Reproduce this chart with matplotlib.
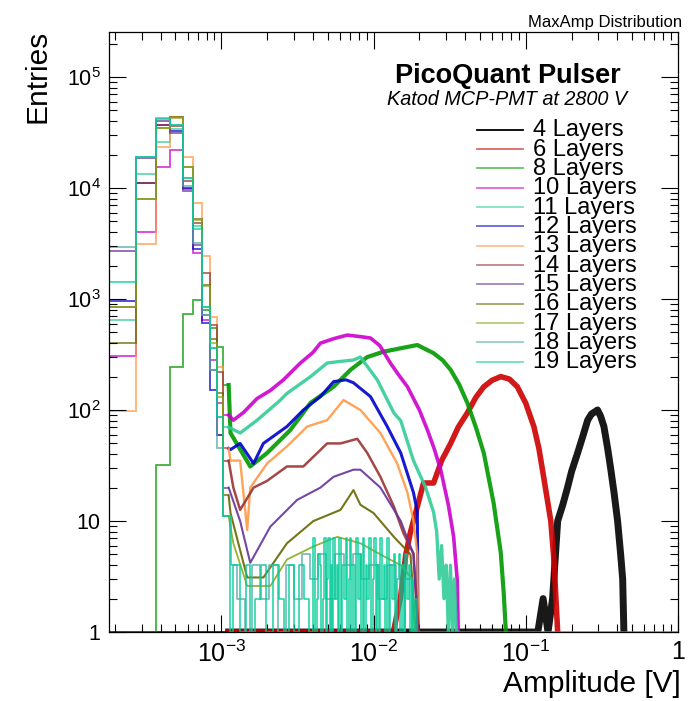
import numpy as np
import matplotlib.pyplot as plt
from matplotlib.ticker import FixedLocator, FixedFormatter, LogLocator, NullFormatter

plt.rcParams['font.family'] = ['Liberation Sans', 'DejaVu Sans']
plt.rcParams['mathtext.fontset'] = 'custom'
plt.rcParams['mathtext.rm'] = 'Liberation Sans'
plt.rcParams['mathtext.it'] = 'Liberation Sans:italic'
plt.rcParams['mathtext.bf'] = 'Liberation Sans:bold'

layers = ['4 Layers', '6 Layers', '8 Layers', '10 Layers', '11 Layers', '12 Layers',
          '13 Layers', '14 Layers', '15 Layers', '16 Layers', '17 Layers', '18 Layers',
          '19 Layers']
colors = ['#000000', '#cc0000', '#009900', '#cc00cc', '#33cc99', '#0000cc',
          '#ff9944', '#993333', '#663399', '#666600', '#88aa22', '#55aaaa', '#00cc99']

# pedestal region: the first ten fixed-width bins [V]
ped_edges = [1.83e-4, 2.76e-4, 3.70e-4, 4.63e-4, 5.57e-4, 6.50e-4,
             7.44e-4, 8.37e-4, 9.31e-4, 1.024e-3, 1.118e-3]
ped_4 = [1, 1, 1, 1, 1, 1, 1, 1, 1, 1]
ped_6 = [1, 1, 1, 1, 1, 1, 1, 1, 1, 1]
ped_8 = [1, 1, 32, 245, 730, 980, 800, 550, 367, 168]
ped_10 = [308, 3980, 15500, 21900, 9800, 2600, 650, 280, 116, 90]
ped_11 = [645, 13400, 25700, 34000, 12300, 4500, 850, 360, 87, 70]
ped_12 = [960, 11000, 37000, 32500, 10100, 2850, 610, 150, 59, 45]
ped_13 = [98, 3150, 23500, 44000, 19000, 7400, 2450, 690, 245, 45]
ped_14 = [850, 11000, 37000, 36000, 11500, 4800, 1700, 585, 220, 35]
ped_15 = [2680, 18600, 40000, 31000, 9300, 3050, 720, 230, 60, 20]
ped_16 = [400, 7950, 34600, 43700, 15500, 5300, 1340, 435, 142, 17]
ped_17 = [850, 8000, 35000, 43000, 15500, 5100, 1300, 400, 130, 11]
ped_18 = [2960, 19000, 42500, 37000, 10500, 3200, 720, 230, 45, 11]
ped_19 = [1410, 19000, 42000, 37000, 12300, 4300, 850, 360, 87, 11]

# signal region: amplitude [V] and entries
amp_4 = [0.12, 0.13, 0.14, 0.15, 0.162, 0.175, 0.188, 0.2, 0.219, 0.237, 0.255, 0.27,
         0.28, 0.296, 0.31, 0.326, 0.345, 0.362, 0.38, 0.401, 0.42, 0.433, 0.441]
cnt_4 = [1, 2, 1, 2, 10, 14, 20, 28, 41, 58, 81, 92, 95, 100, 88, 71, 45, 29, 18, 10, 5,
         3, 1]
amp_6 = [0.0135, 0.015, 0.0163, 0.0175, 0.0194, 0.0213, 0.0248, 0.028, 0.0321, 0.036,
         0.0413, 0.047, 0.053, 0.06, 0.0685, 0.078, 0.088, 0.1, 0.113, 0.122, 0.131, 0.146,
         0.153, 0.162]
cnt_6 = [1, 2, 5, 8, 13.5, 22, 22, 35, 50, 70, 94, 130, 162, 185, 200, 190, 162, 115, 71,
         45, 25, 10, 4.5, 1]
amp_8 = [0.00115, 0.00155, 0.0020, 0.00284, 0.00386, 0.00546, 0.00706, 0.0091, 0.0116,
         0.0151, 0.0194, 0.0248, 0.0285, 0.0321, 0.0365, 0.0413, 0.047, 0.053, 0.0615,
         0.0685, 0.0717, 0.074]
cnt_8 = [62, 31, 41, 66, 116, 162, 230, 300, 335, 360, 385, 325, 280, 230, 170, 116, 70,
         41, 14.5, 5.2, 2.2, 1]
amp_10 = [0.0012, 0.0014, 0.00172, 0.0021, 0.00256, 0.00331, 0.0040, 0.00448, 0.0055,
          0.00672, 0.0080, 0.00955, 0.011, 0.0129, 0.0147, 0.0167, 0.020, 0.0226, 0.025,
          0.0276, 0.031, 0.0336, 0.0355, 0.036]
cnt_10 = [81, 95, 127, 150, 187, 265, 330, 400, 440, 473, 460, 445, 380, 265, 205, 162,
          100, 66, 45, 29, 14, 7.2, 2.9, 1]
amp_11 = [0.00133, 0.00172, 0.0024, 0.0027, 0.00386, 0.00496, 0.00577, 0.00738, 0.0082,
          0.0106, 0.0136, 0.0151, 0.0183, 0.022, 0.0248, 0.026, 0.027, 0.028, 0.029, 0.030,
          0.031, 0.032, 0.033, 0.034, 0.035, 0.0355]
cnt_11 = [62, 81, 120, 141, 200, 265, 272, 282, 300, 186, 94, 80, 35, 20, 12, 8, 3, 6, 2, 4,
          1, 4, 1, 3, 1, 1]
amp_12 = [0.00115, 0.00133, 0.00163, 0.00189, 0.0027, 0.00346, 0.00448, 0.00546, 0.0066,
          0.00738, 0.00955, 0.0123, 0.0151, 0.0183, 0.0194, 0.0196]
cnt_12 = [44, 50, 33, 50, 71, 100, 132, 180, 187, 176, 132, 71, 41, 18, 12, 1]
amp_13 = [0.00115, 0.00133, 0.00148, 0.00155, 0.0020, 0.0027, 0.00367, 0.00496, 0.00635,
          0.0082, 0.0111, 0.0143, 0.0167, 0.0183, 0.0194, 0.0196]
cnt_13 = [35, 35, 8.3, 20, 33, 47, 71, 81, 123, 100, 62, 33, 18, 10, 5, 1]
amp_14 = [0.0012, 0.00133, 0.00163, 0.0020, 0.0027, 0.00346, 0.00496, 0.00607, 0.00782,
          0.0091, 0.0111, 0.0136, 0.0157, 0.0183, 0.0198]
cnt_14 = [20, 12.6, 20, 23, 31, 31, 50, 50, 55, 41, 25, 13.5, 7.8, 5.1, 1]
amp_15 = [0.00133, 0.00155, 0.0021, 0.00315, 0.00448, 0.00546, 0.00738, 0.0082, 0.0111,
          0.0151, 0.0183, 0.0195]
cnt_15 = [10, 4.2, 8.9, 15.5, 20, 25, 29, 29, 20, 10, 5, 1]
amp_16 = [0.00115, 0.00148, 0.00189, 0.0027, 0.00403, 0.00607, 0.00738, 0.0082, 0.010,
          0.0136, 0.0175, 0.0189]
cnt_16 = [11.8, 3.1, 3.1, 6.3, 10, 12.6, 19, 14, 11.8, 7.2, 5, 1]
amp_17 = [0.0012, 0.00148, 0.0021, 0.0027, 0.00403, 0.00577, 0.0082, 0.0111, 0.0151, 0.018,
          0.0186]
cnt_17 = [6.3, 2.6, 2.6, 4.5, 5.9, 7.2, 6.3, 5, 4, 3, 1]
amp_18 = [0.0012, 0.00135, 0.0015, 0.0017, 0.0019, 0.0022, 0.0025, 0.0028, 0.0032, 0.0036,
          0.0040, 0.0046, 0.0052, 0.0060, 0.0068, 0.0078, 0.0088, 0.010, 0.0115, 0.013,
          0.015, 0.017, 0.019]
cnt_18 = [4, 2, 1, 4, 2, 4, 1, 4, 2, 5, 3, 5, 2, 5, 4, 5, 3, 4, 2, 4, 1, 3, 1]
amp_19 = [0.00115, 0.00125, 0.0014, 0.0015, 0.0016, 0.00175, 0.0019, 0.00205, 0.0023,
          0.0025, 0.0027, 0.0029, 0.0031, 0.0034, 0.0036, 0.0039, 0.0041, 0.0042, 0.0043,
          0.0044, 0.0045, 0.0046, 0.0047, 0.0048, 0.0049, 0.0050, 0.0051, 0.0052, 0.0053,
          0.0054, 0.0055, 0.0057, 0.0058, 0.0059, 0.0060, 0.0062, 0.0063, 0.0065, 0.0066,
          0.0068, 0.0069, 0.0071, 0.0072, 0.0074, 0.0076, 0.0078, 0.0080, 0.0082, 0.0084,
          0.0086, 0.0088, 0.0090, 0.0092, 0.0095, 0.0097, 0.0100, 0.0102, 0.0105, 0.0107,
          0.0110, 0.0112, 0.0115, 0.0118, 0.0121, 0.0124, 0.0127, 0.0130, 0.0134, 0.0137,
          0.0141, 0.0144, 0.0148, 0.0152, 0.0156, 0.0160, 0.0164, 0.0168, 0.0172, 0.0176,
          0.0181, 0.0185, 0.0190, 0.0195, 1.0]
cnt_19 = [1, 4, 1, 4, 1, 2, 4, 1, 4, 2, 1, 4, 1, 4, 2, 1, 7, 1, 2, 5, 4, 1, 2, 7, 1, 3, 7,
          1, 4, 1, 7, 2, 4, 1, 7, 1, 4, 2, 7, 1, 3, 7, 1, 4, 1, 7, 2, 5, 1, 7, 1, 4, 2, 7, 1,
          3, 7, 1, 4, 1, 7, 2, 4, 1, 7, 1, 4, 2, 5, 1, 3, 5, 1, 4, 1, 5, 2, 4, 1, 3, 1, 2, 1,
          1]

peds = [ped_4, ped_6, ped_8, ped_10, ped_11, ped_12, ped_13, ped_14, ped_15, ped_16,
        ped_17, ped_18, ped_19]
amps = [amp_4, amp_6, amp_8, amp_10, amp_11, amp_12, amp_13, amp_14, amp_15, amp_16,
        amp_17, amp_18, amp_19]
cnts = [cnt_4, cnt_6, cnt_8, cnt_10, cnt_11, cnt_12, cnt_13, cnt_14, cnt_15, cnt_16,
        cnt_17, cnt_18, cnt_19]

# line look per series (dense noisy curves look thicker)
widths = [5.0, 4.0, 3.0, 2.6, 2.4, 2.2, 1.7, 1.8, 1.5, 1.5, 1.3, 1.1, 1.1]
styles = ['default'] * 11 + ['steps-mid', 'steps-mid']

fig = plt.figure(figsize=(7.0, 7.01), dpi=100)
ax = fig.add_axes([0.1557, 0.0984, 0.8129, 0.8559])

for i in range(len(layers)):
    ax.stairs(peds[i], ped_edges, color=colors[i], lw=1.3, alpha=0.75, baseline=None)
    x = [ped_edges[-1]] + amps[i]
    y = [peds[i][-1]] + cnts[i]
    ax.plot(x, y, color=colors[i], lw=widths[i], alpha=0.9, drawstyle=styles[i])

ax.set_xscale('log')
ax.set_yscale('log')
ax.set_xlim(1.83e-4, 1.0)
ax.set_ylim(1, 2.54e5)

ax.xaxis.set_major_locator(FixedLocator([1e-3, 1e-2, 1e-1, 1]))
ax.xaxis.set_major_formatter(FixedFormatter([r'$10^{-3}$', r'$10^{-2}$', r'$10^{-1}$', '1']))
ax.xaxis.set_minor_locator(LogLocator(base=10, subs=np.arange(2, 10), numticks=20))
ax.xaxis.set_minor_formatter(NullFormatter())
ax.yaxis.set_major_locator(FixedLocator([1, 10, 1e2, 1e3, 1e4, 1e5]))
ax.yaxis.set_major_formatter(FixedFormatter(['1', '10', r'$10^{2}$', r'$10^{3}$',
                                             r'$10^{4}$', r'$10^{5}$']))
ax.yaxis.set_minor_locator(LogLocator(base=10, subs=np.arange(2, 10), numticks=20))
ax.yaxis.set_minor_formatter(NullFormatter())

ax.tick_params(which='both', direction='in', top=True, right=True, width=0.8)
ax.tick_params(which='major', length=12.5)
ax.tick_params(which='minor', length=6)
ax.tick_params(axis='x', which='major', pad=6, labelsize=18)
ax.tick_params(axis='y', which='major', pad=6, labelsize=15.5)
for s in ax.spines.values():
    s.set_linewidth(0.9)

# hand-drawn legend, tight ROOT style
for i, lab in enumerate(layers):
    yy = 0.837 - 0.0322 * i
    ax.plot([0.647, 0.728], [yy, yy], transform=ax.transAxes, color=colors[i],
            lw=1.3, alpha=0.6 if i > 0 else 1.0)
    ax.text(0.745, yy - 0.011, lab, transform=ax.transAxes, fontsize=17, va='baseline',
            ha='left')

ax.text(0.701, 0.915, 'PicoQuant Pulser', transform=ax.transAxes, fontsize=19.5,
        fontweight='bold', ha='center', va='baseline')
ax.text(0.70, 0.878, 'Katod MCP-PMT at 2800 V', transform=ax.transAxes, fontsize=14.3,
        style='italic', ha='center', va='baseline')

fig.text(682 / 700, 1 - 27 / 701, 'MaxAmp Distribution', fontsize=12, ha='right',
         va='baseline')
fig.text(38 / 700, 1 - 30 / 701, 'Entries', fontsize=21.5, rotation=90, ha='center',
         va='top')
fig.text(681 / 700, 1 - 692 / 701, 'Amplitude [V]', fontsize=21.5, ha='right',
         va='baseline')

fig.savefig('out.png', dpi=100)
